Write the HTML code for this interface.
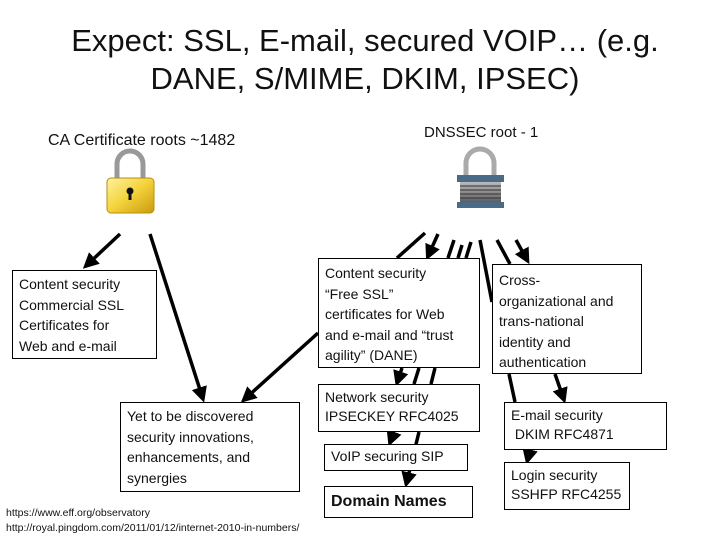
<!DOCTYPE html>
<html><head><meta charset="utf-8"><style>
body{margin:0;width:720px;height:540px;background:#fff;position:relative;overflow:hidden;font-family:"Liberation Sans",sans-serif;color:#111}
.t{position:absolute;white-space:nowrap}
.b{position:absolute;border:1px solid #000;background:#fff;box-sizing:border-box;font-size:14px;line-height:20.5px;padding:3px 6px}
</style></head><body>
<div class="t" style="left:0;width:730px;text-align:center;top:22px;font-size:31px;line-height:38px">Expect: SSL, E-mail, secured VOIP… (e.g.<br>DANE, S/MIME, DKIM, IPSEC)</div>
<div class="t" style="left:48px;top:132px;font-size:16px">CA Certificate roots ~1482</div>
<div class="t" style="left:424px;top:124px;font-size:15px">DNSSEC root - 1</div>

<svg width="720" height="540" style="position:absolute;left:0;top:0">
<defs>
<linearGradient id="g" x1="0" y1="0" x2="1" y2="1"><stop offset="0" stop-color="#fff2a0"/><stop offset=".5" stop-color="#f3d23a"/><stop offset="1" stop-color="#c89a10"/></linearGradient>
<linearGradient id="s" x1="0" y1="0" x2="0" y2="1"><stop offset="0" stop-color="#bbb"/><stop offset="1" stop-color="#555"/></linearGradient>
<marker id="a" markerWidth="4.5" markerHeight="4.5" refX="2.5" refY="2.25" orient="auto" markerUnits="strokeWidth"><path d="M0,0L4.5,2.25L0,4.5z" fill="#000"/></marker>
</defs>
<path d="M117,180 V164 a13,13 0 0 1 26,0 V180" fill="none" stroke="#999" stroke-width="5"/>
<rect x="107" y="178" width="47" height="35" rx="4" fill="url(#g)" stroke="#b8900c"/>
<circle cx="130" cy="191" r="3.5" fill="#111"/><rect x="128.5" y="191" width="3" height="9" fill="#111"/>
<path d="M466,178 V163 a14,14 0 0 1 28,0 V178" fill="none" stroke="#aaa" stroke-width="5"/>
<rect x="457" y="175" width="47" height="7" fill="#4a6a88"/>
<rect x="460" y="182" width="41" height="22" fill="url(#s)"/>
<g stroke="#333" stroke-width="1"><line x1="460" y1="186" x2="501" y2="186"/><line x1="460" y1="190" x2="501" y2="190"/><line x1="460" y1="194" x2="501" y2="194"/><line x1="460" y1="198" x2="501" y2="198"/></g>
<rect x="457" y="202" width="47" height="6" fill="#4a6a88"/>
<g stroke="#000" stroke-width="3.5" fill="none">
<line x1="120" y1="234" x2="88" y2="264" marker-end="url(#a)"/>
<line x1="150" y1="234" x2="202" y2="396" marker-end="url(#a)"/>
<line x1="318" y1="333" x2="246" y2="398" marker-end="url(#a)"/>
<line x1="425" y1="233" x2="397" y2="258"/>
<line x1="438" y1="234" x2="429" y2="254" marker-end="url(#a)"/>
<line x1="454" y1="240" x2="448" y2="258"/>
<line x1="462" y1="245" x2="458" y2="258"/>
<line x1="471" y1="242" x2="466" y2="258"/>
<line x1="480" y1="240" x2="492" y2="302"/>
<line x1="497" y1="240" x2="510" y2="264"/>
<line x1="516" y1="240" x2="526" y2="258" marker-end="url(#a)"/>
<line x1="402" y1="368" x2="398" y2="380" marker-end="url(#a)"/>
<line x1="419" y1="368" x2="414" y2="384"/>
<line x1="435" y1="368" x2="431" y2="384"/>
<line x1="394" y1="432" x2="391" y2="440" marker-end="url(#a)"/>
<line x1="419" y1="432" x2="407" y2="481" marker-end="url(#a)"/>
<line x1="509" y1="374" x2="515" y2="402"/>
<line x1="555" y1="374" x2="563" y2="397" marker-end="url(#a)"/>
<line x1="530" y1="450" x2="528" y2="458" marker-end="url(#a)"/>
</g>
</svg>

<div class="b" style="left:12px;top:270px;width:145px;height:89px">Content security<br>Commercial SSL<br>Certificates for<br>Web and e-mail</div>
<div class="b" style="left:120px;top:402px;width:180px;height:90px">Yet to be discovered<br>security innovations,<br>enhancements, and<br>synergies</div>
<div class="b" style="left:318px;top:258px;width:162px;height:110px;padding-top:4px">Content security<br>“Free SSL”<br>certificates for Web<br>and e-mail and “trust<br>agility” (DANE)</div>
<div class="b" style="left:492px;top:264px;width:150px;height:110px;padding-top:5px">Cross-<br>organizational and<br>trans-national<br>identity and<br>authentication</div>
<div class="b" style="left:318px;top:384px;width:162px;height:48px;line-height:19px">Network security<br>IPSECKEY RFC4025</div>
<div class="b" style="left:324px;top:444px;width:144px;height:27px;line-height:19px;padding-top:2px">VoIP securing SIP</div>
<div class="b" style="left:324px;top:486px;width:149px;height:32px;font-size:16px;font-weight:bold;line-height:24px">Domain Names</div>
<div class="b" style="left:504px;top:402px;width:163px;height:48px;line-height:19px">E-mail security<br>&nbsp;DKIM RFC4871</div>
<div class="b" style="left:504px;top:462px;width:126px;height:48px;line-height:19px">Login security<br>SSHFP RFC4255</div>

<div class="t" style="left:6px;top:506px;font-size:10.5px;line-height:15px">https://www.eff.org/observatory<br>http://royal.pingdom.com/2011/01/12/internet-2010-in-numbers/</div>
</body></html>
